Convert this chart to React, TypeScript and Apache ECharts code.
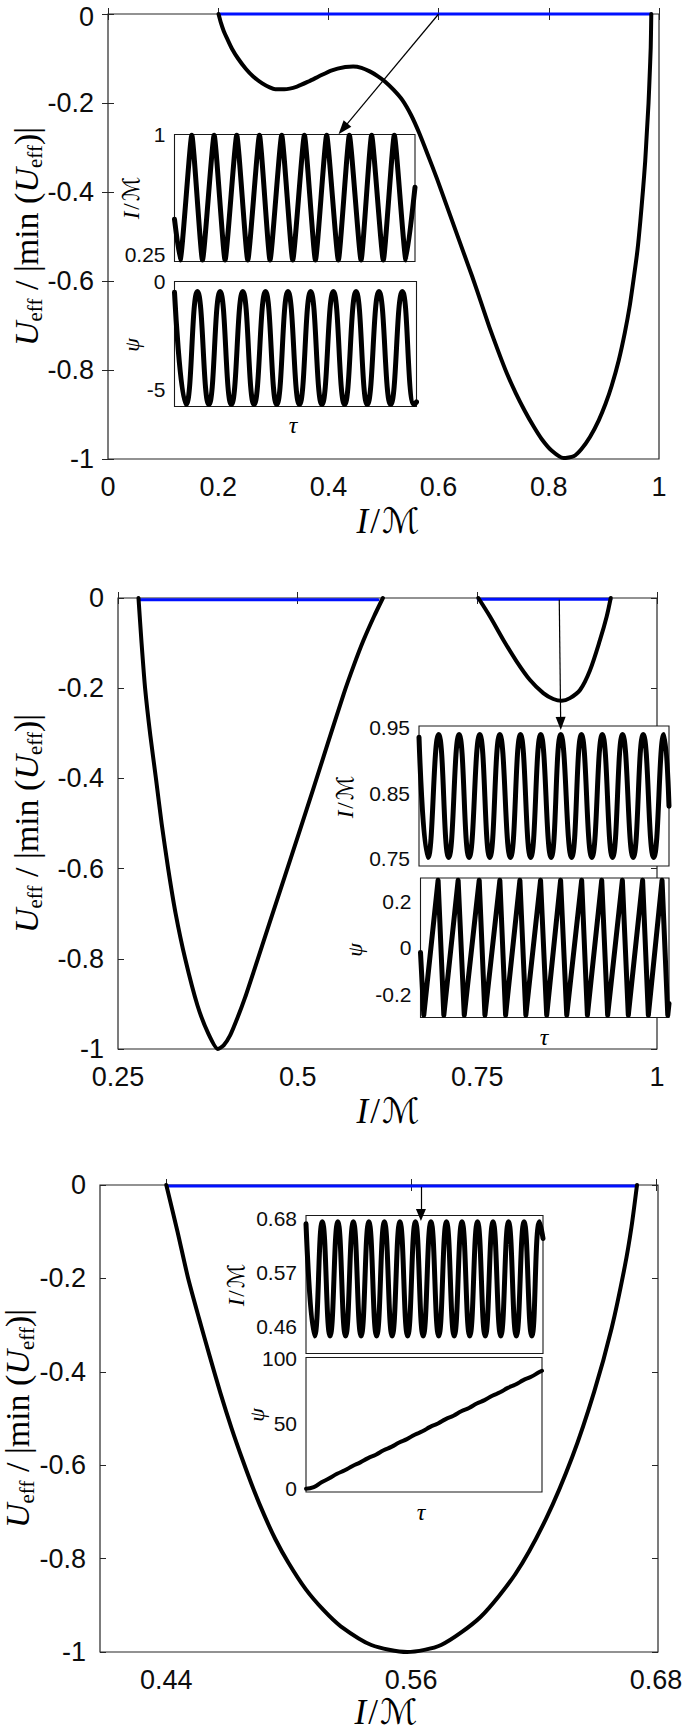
import React, { useEffect, useRef } from "react";
import * as echarts from "echarts";

// ---------------- data ----------------
// Panel 1 (top)
const P1_X_RANGE = [0, 1];
const P1_X_TICKS = [0, 0.2, 0.4, 0.6, 0.8, 1];
const P1_Y_RANGE = [-1, 0];
const P1_Y_TICKS = [-1, -0.8, -0.6, -0.4, -0.2, 0];
const P1_CURVE = [
  [0.2006, 0], [0.205, -0.02], [0.21, -0.038], [0.2165, -0.056], [0.225, -0.078], [0.236, -0.1],
  [0.25, -0.123], [0.264, -0.141], [0.28, -0.156], [0.2935, -0.165], [0.3037, -0.169], [0.32, -0.169],
  [0.343, -0.163], [0.365, -0.151], [0.383, -0.14], [0.405, -0.127], [0.4306, -0.119], [0.445, -0.118],
  [0.46, -0.121], [0.475, -0.129], [0.49, -0.14], [0.502, -0.151], [0.518, -0.17], [0.534, -0.193],
  [0.55, -0.227], [0.565, -0.268], [0.58, -0.315], [0.597, -0.37], [0.613, -0.425], [0.629, -0.48],
  [0.645, -0.535], [0.661, -0.59], [0.677, -0.648], [0.692, -0.703], [0.708, -0.757], [0.724, -0.808],
  [0.74, -0.852], [0.756, -0.891], [0.772, -0.926], [0.787, -0.955], [0.805, -0.981], [0.827, -0.998],
  [0.845, -0.994], [0.859, -0.978], [0.875, -0.95], [0.8906, -0.913], [0.903, -0.876], [0.914, -0.836],
  [0.927, -0.778], [0.938, -0.716], [0.947, -0.655], [0.954, -0.595], [0.961, -0.53], [0.966, -0.467],
  [0.971, -0.395], [0.975, -0.33], [0.978, -0.265], [0.981, -0.2], [0.983, -0.14], [0.985, -0.075],
  [0.986, 0],
];
const P1_BLUE = [[0.2006, 0], [0.986, 0]];
const P1_ARROW = [[0.6, 0], [0.4265, -0.258]];
const P1_IN_I_RANGE = [0.206, 1];
const P1_IN_I_TICKS = [0.25, 1];
const P1_IN_I_TAU = [0, 10.7];
const P1_IN_I = [
  [0, 0.47], [0.25, 0.215], [0.77, 0.995], [1.245, 0.215], [1.764, 0.995], [2.25, 0.215], [2.77, 0.995],
  [3.26, 0.215], [3.78, 0.995], [4.25, 0.215], [4.77, 0.995], [5.26, 0.215], [5.78, 0.995], [6.27, 0.215],
  [6.77, 0.995], [7.29, 0.215], [7.78, 0.995], [8.3, 0.215], [8.77, 0.995], [9.29, 0.215], [9.78, 0.995],
  [10.3, 0.215], [10.7, 0.67],
];
const P1_IN_PSI_RANGE = [-5.81, 0];
const P1_IN_PSI_TICKS = [-5, 0];
const P1_IN_PSI_TAU = [0, 10.77];
const P1_IN_PSI = [
  [0, -0.5], [0.52, -5.72], [1.02, -0.47], [1.53, -5.72], [2.03, -0.47], [2.53, -5.72], [3.04, -0.47],
  [3.54, -5.72], [4.05, -0.47], [4.55, -5.72], [5.05, -0.47], [5.56, -5.72], [6.06, -0.47], [6.56, -5.72],
  [7.07, -0.47], [7.57, -5.72], [8.08, -0.47], [8.58, -5.72], [9.1, -0.47], [9.62, -5.72], [10.14, -0.47],
  [10.66, -5.72], [10.77, -5.6],
];

// Panel 2 (middle)
const P2_X_RANGE = [0.25, 1];
const P2_X_TICKS = [0.25, 0.5, 0.75, 1];
const P2_Y_RANGE = [-1, 0];
const P2_Y_TICKS = [-1, -0.8, -0.6, -0.4, -0.2, 0];
const P2_CURVE_A = [
  [0.2785, 0], [0.2828, -0.1], [0.2877, -0.2], [0.295, -0.305], [0.3028, -0.4], [0.3107, -0.5],
  [0.3198, -0.6], [0.33, -0.698], [0.3435, -0.8], [0.3605, -0.903], [0.3757, -0.966], [0.389, -1],
  [0.397, -0.992], [0.406, -0.97], [0.416, -0.932], [0.427, -0.885], [0.4395, -0.825], [0.461, -0.72],
  [0.482, -0.618], [0.502, -0.52], [0.5214, -0.425], [0.542, -0.322], [0.564, -0.213], [0.578, -0.15],
  [0.5913, -0.095], [0.6065, -0.04], [0.6186, 0],
];
const P2_CURVE_B = [
  [0.7514, 0], [0.7676, -0.041], [0.7862, -0.093], [0.8048, -0.141], [0.8233, -0.182], [0.8418, -0.211],
  [0.8557, -0.224], [0.8674, -0.228], [0.8789, -0.222], [0.8929, -0.204], [0.9068, -0.16], [0.9207, -0.093],
  [0.93, -0.041], [0.9356, 0],
];
const P2_BLUE_A = [[0.2806, -0.004], [0.6118, -0.004]];
const P2_BLUE_B = [[0.7514, -0.003], [0.9356, -0.003]];
const P2_ARROW = [[0.864, -0.004], [0.866, -0.278]];
const P2_IN_I_RANGE = [0.739, 0.952];
const P2_IN_I_TICKS = [0.75, 0.85, 0.95];
const P2_IN_I_TAU = [0, 12.22];
const P2_IN_I = [
  [0, 0.935], [0.44, 0.752], [0.96, 0.939], [1.45, 0.752], [1.96, 0.939], [2.45, 0.752], [2.97, 0.939],
  [3.46, 0.752], [3.95, 0.939], [4.47, 0.752], [4.96, 0.939], [5.46, 0.752], [5.95, 0.939], [6.46, 0.752],
  [6.93, 0.939], [7.46, 0.752], [7.94, 0.939], [8.45, 0.752], [8.96, 0.939], [9.46, 0.752], [9.95, 0.939],
  [10.47, 0.752], [10.96, 0.939], [11.47, 0.752], [11.97, 0.939], [12.22, 0.83],
];
const P2_IN_PSI_RANGE = [-0.3, 0.3];
const P2_IN_PSI_TICKS = [-0.2, 0, 0.2];
const P2_IN_PSI_TAU = [0, 12.15];
const P2_IN_PSI = [
  [0, -0.02], [0.16, -0.29], [0.86, 0.29], [1.14, -0.29], [1.84, 0.29], [2.14, -0.29], [2.87, 0.29],
  [3.15, -0.29], [3.88, 0.29], [4.16, -0.29], [4.86, 0.29], [5.15, -0.29], [5.87, 0.29], [6.17, -0.29],
  [6.85, 0.29], [7.15, -0.29], [7.88, 0.29], [8.16, -0.29], [8.86, 0.29], [9.15, -0.29], [9.87, 0.29],
  [10.16, -0.29], [10.86, 0.29], [11.14, -0.29], [11.81, 0.29], [12.09, -0.29], [12.15, -0.24],
];

// Panel 3 (bottom)
const P3_X_RANGE = [0.4075, 0.681];
const P3_X_TICKS = [0.44, 0.56, 0.68];
const P3_Y_RANGE = [-1, 0];
const P3_Y_TICKS = [-1, -0.8, -0.6, -0.4, -0.2, 0];
const P3_CURVE = [
  [0.44, 0], [0.4455, -0.1], [0.4506, -0.198], [0.456, -0.285], [0.4613, -0.367], [0.4665, -0.445],
  [0.472, -0.521], [0.4775, -0.59], [0.4827, -0.651], [0.488, -0.707], [0.4934, -0.758], [0.5, -0.81],
  [0.5084, -0.866], [0.517, -0.91], [0.5255, -0.945], [0.5405, -0.985], [0.558, -1], [0.5747, -0.985],
  [0.594, -0.925], [0.6111, -0.833], [0.6261, -0.715], [0.639, -0.582], [0.6497, -0.443], [0.6583, -0.306],
  [0.6647, -0.175], [0.668, -0.09], [0.6707, 0],
];
const P3_BLUE = [[0.44, -0.002], [0.6707, -0.002]];
const P3_ARROW = [[0.5648, -0.004], [0.5648, -0.064]];
const P3_IN_I_RANGE = [0.404, 0.687];
const P3_IN_I_TICKS = [0.46, 0.57, 0.68];
const P3_IN_I_TAU = [0, 15.27];
const P3_IN_I = [
  [0, 0.67], [0.55, 0.44], [1.05, 0.674], [1.55, 0.44], [2.05, 0.674], [2.55, 0.44], [3.05, 0.674],
  [3.55, 0.44], [4.05, 0.674], [4.55, 0.44], [5.05, 0.674], [5.55, 0.44], [6.05, 0.674], [6.55, 0.44],
  [7.05, 0.674], [7.55, 0.44], [8.05, 0.674], [8.55, 0.44], [9.05, 0.674], [9.55, 0.44], [10.05, 0.674],
  [10.55, 0.44], [11.05, 0.674], [11.55, 0.44], [12.05, 0.674], [12.55, 0.44], [13.05, 0.674],
  [13.55, 0.44], [14.05, 0.674], [14.55, 0.44], [15.05, 0.674], [15.27, 0.64],
];
const P3_IN_PSI_RANGE = [-2.5, 101];
const P3_IN_PSI_TICKS = [0, 50, 100];
const P3_IN_PSI_TAU = [0, 15.2];
const P3_IN_PSI = [
  [0, 0], [0.5, 1.2], [1, 5], [1.5, 8], [2, 11.5], [2.5, 14.2], [3, 17.5], [3.5, 20.3], [4, 23.6],
  [4.5, 26.2], [5, 29.6], [5.5, 32.2], [6, 35.6], [6.5, 38.2], [7, 41.6], [7.5, 44.2], [8, 47.6],
  [8.5, 50.2], [9, 53.6], [9.5, 56.2], [10, 59.6], [10.5, 62.2], [11, 65.6], [11.5, 68.2], [12, 71.6],
  [12.5, 74.2], [13, 77.6], [13.5, 80.2], [14, 83.6], [14.5, 86.2], [15, 89.6], [15.2, 90.8],
];

// ---------------- layout & styles ----------------
const W = 685;
const H = 1733;
const SANS = "'Liberation Sans', Arial, Helvetica, sans-serif";
const SERIF = "'Liberation Serif', 'DejaVu Serif', serif";
const AXIS_COLOR = "#262626";
const LABEL_COLOR = "#0d0d0d";
const BLUE = "#0010ff";
const TICK_FONT = 27;

const MAIN_GRIDS = [
  { left: 108, top: 14, width: 551, height: 445 },
  { left: 118, top: 598, width: 539, height: 451 },
  { left: 100, top: 1185, width: 558, height: 467 },
];
const INSET_GRIDS = [
  { left: 174.5, top: 134.5, width: 240.5, height: 127 },
  { left: 174.5, top: 281.5, width: 242, height: 125 },
  { left: 419, top: 726, width: 250, height: 140 },
  { left: 420.5, top: 878, width: 248.5, height: 139.5 },
  { left: 306, top: 1215.5, width: 237, height: 138 },
  { left: 306, top: 1357.5, width: 236, height: 134.5 },
];

const fmt = (v: number) => String(+Number(v).toFixed(4));

function buildOption() {
  const grid: any[] = [];
  const xAxis: any[] = [];
  const yAxis: any[] = [];
  const series: any[] = [];

  const mainSpecs = [
    { xr: P1_X_RANGE, xt: P1_X_TICKS, yr: P1_Y_RANGE, yt: P1_Y_TICKS },
    { xr: P2_X_RANGE, xt: P2_X_TICKS, yr: P2_Y_RANGE, yt: P2_Y_TICKS },
    { xr: P3_X_RANGE, xt: P3_X_TICKS, yr: P3_Y_RANGE, yt: P3_Y_TICKS },
  ];
  const mainIdx: { x: number; y: number }[] = [];
  MAIN_GRIDS.forEach((g, gi) => {
    grid.push({ ...g, show: true, borderColor: AXIS_COLOR, borderWidth: 1.2, backgroundColor: "transparent", containLabel: false, outerBoundsMode: "none" });
    const s = mainSpecs[gi];
    const tick = (vals: number[]) => ({ show: true, inside: true, length: 6, customValues: vals, lineStyle: { color: AXIS_COLOR, width: 1 } });
    const base = { type: "value", gridIndex: gi, axisLine: { show: false }, splitLine: { show: false } };
    const labelBase = { show: true, fontSize: TICK_FONT, lineHeight: 24, fontFamily: SANS, color: LABEL_COLOR, showMinLabel: true, showMaxLabel: true, hideOverlap: false };
    xAxis.push({ ...base, position: "bottom", min: s.xr[0], max: s.xr[1], axisTick: tick(s.xt),
      axisLabel: { ...labelBase, customValues: s.xt, formatter: fmt, margin: 16 } });
    const xi = xAxis.length - 1;
    xAxis.push({ ...base, position: "top", min: s.xr[0], max: s.xr[1], axisTick: tick(s.xt), axisLabel: { show: false } });
    // the very top label of the top panel is nudged down a little so it stays inside the page
    const yFormatter = (v: number) => (gi === 0 && v === 0 ? "{t|0}" : fmt(v));
    yAxis.push({ ...base, position: "left", min: s.yr[0], max: s.yr[1], axisTick: tick(s.yt),
      axisLabel: { ...labelBase, customValues: s.yt, formatter: yFormatter, margin: 14,
        rich: { t: { fontSize: TICK_FONT, fontFamily: SANS, color: LABEL_COLOR, lineHeight: 24, padding: [6, 0, 0, 0] } } } });
    const yi = yAxis.length - 1;
    yAxis.push({ ...base, position: "right", min: s.yr[0], max: s.yr[1], axisTick: tick(s.yt), axisLabel: { show: false } });
    mainIdx.push({ x: xi, y: yi });
  });

  const insetSpecs = [
    { tau: P1_IN_I_TAU, yr: P1_IN_I_RANGE, yt: P1_IN_I_TICKS },
    { tau: P1_IN_PSI_TAU, yr: P1_IN_PSI_RANGE, yt: P1_IN_PSI_TICKS },
    { tau: P2_IN_I_TAU, yr: P2_IN_I_RANGE, yt: P2_IN_I_TICKS },
    { tau: P2_IN_PSI_TAU, yr: P2_IN_PSI_RANGE, yt: P2_IN_PSI_TICKS },
    { tau: P3_IN_I_TAU, yr: P3_IN_I_RANGE, yt: P3_IN_I_TICKS },
    { tau: P3_IN_PSI_TAU, yr: P3_IN_PSI_RANGE, yt: P3_IN_PSI_TICKS },
  ];
  const insetIdx: { x: number; y: number }[] = [];
  INSET_GRIDS.forEach((g, k) => {
    const gi = grid.length;
    grid.push({ ...g, show: true, borderColor: "#1a1a1a", borderWidth: 1.1, backgroundColor: "#fff", containLabel: false, outerBoundsMode: "none", z: 5 });
    const s = insetSpecs[k];
    const tick = (vals: number[]) => ({ show: true, inside: true, length: 4, customValues: vals, lineStyle: { color: AXIS_COLOR, width: 1 } });
    const base = { type: "value", gridIndex: gi, axisLine: { show: false }, splitLine: { show: false } };
    xAxis.push({ ...base, show: false, min: s.tau[0], max: s.tau[1] });
    const xi = xAxis.length - 1;
    yAxis.push({ ...base, position: "left", min: s.yr[0], max: s.yr[1], axisTick: tick(s.yt),
      axisLabel: { show: true, customValues: s.yt, formatter: fmt, fontSize: 21, lineHeight: 18, fontFamily: SANS, color: LABEL_COLOR, margin: 9, showMinLabel: true, showMaxLabel: true, hideOverlap: false } });
    const yi = yAxis.length - 1;
    yAxis.push({ ...base, position: "right", min: s.yr[0], max: s.yr[1], axisTick: tick(s.yt), axisLabel: { show: false } });
    insetIdx.push({ x: xi, y: yi });
  });

  const line = (data: number[][], idx: { x: number; y: number }, color: string, width: number, smooth: number | boolean, extra: any = {}) => ({
    type: "line", data, xAxisIndex: idx.x, yAxisIndex: idx.y, showSymbol: false, symbol: "none",
    smooth, clip: false, silent: true, lineStyle: { color, width, cap: "round", join: "round" }, z: 3, ...extra,
  });
  const arrow = (pts: number[][], size: number[]) => ({
    silent: true, symbol: ["none", "triangle"], symbolSize: size, precision: 6,
    label: { show: false }, lineStyle: { color: "#000", width: 1.2, type: "solid" },
    itemStyle: { color: "#000" }, emphasis: { disabled: true },
    data: [[{ coord: pts[0] }, { coord: pts[1] }]],
  });

  // panel 1
  series.push(line(P1_BLUE, mainIdx[0], BLUE, 3, false, { markLine: arrow(P1_ARROW, [10, 14]) }));
  series.push(line(P1_CURVE, mainIdx[0], "#000", 4, 0.2));
  // panel 2
  series.push(line(P2_BLUE_A, mainIdx[1], BLUE, 3, false));
  series.push(line(P2_BLUE_B, mainIdx[1], BLUE, 3, false, { markLine: arrow(P2_ARROW, [10, 13]) }));
  series.push(line(P2_CURVE_A, mainIdx[1], "#000", 4, 0.2));
  series.push(line(P2_CURVE_B, mainIdx[1], "#000", 4, 0.3));
  // panel 3
  series.push(line(P3_BLUE, mainIdx[2], BLUE, 3, false, { markLine: arrow(P3_ARROW, [10, 12]) }));
  series.push(line(P3_CURVE, mainIdx[2], "#000", 4, 0.25));
  // insets
  series.push(line(P1_IN_I, insetIdx[0], "#000", 5, 0.15, { z: 6 }));
  series.push(line(P1_IN_PSI, insetIdx[1], "#000", 5, 0.5, { z: 6 }));
  series.push(line(P2_IN_I, insetIdx[2], "#000", 5, 0.5, { z: 6 }));
  series.push(line(P2_IN_PSI, insetIdx[3], "#000", 5, false, { z: 6 }));
  series.push(line(P3_IN_I, insetIdx[4], "#000", 5, 0.5, { z: 6 }));
  series.push(line(P3_IN_PSI, insetIdx[5], "#000", 4, 0.5, { z: 6 }));

  // texts (axis titles)
  const yRich = {
    i: { fontFamily: SERIF, fontStyle: "italic", fontSize: 34, fill: "#000" },
    s: { fontFamily: SERIF, fontSize: 21, fill: "#000", padding: [18, 0, 0, 0] },
    n: { fontFamily: SERIF, fontSize: 34, fill: "#000" },
  };
  const yTitle = "{i|U}{s|eff}{n| / |min (}{i|U}{s|eff}{n|)|}";
  const mRich = (size: number) => ({
    i: { fontFamily: SERIF, fontStyle: "italic", fontSize: size, fill: "#000" },
    n: { fontFamily: SERIF, fontSize: size, fill: "#000", padding: [0, 2, 0, 2] },
    m: { fontFamily: "'DejaVu Sans', 'DejaVu Serif', serif", fontSize: size, fill: "#000" },
  });
  const xTitle = "{i|I}{n|/}{m|ℳ}";
  const R = Math.PI / 2;
  const txt = (x: number, y: number, text: string, rich: any, rotation = 0) => ({
    type: "text", x, y, rotation, silent: true, z: 20,
    style: { text, rich, align: "center", verticalAlign: "middle", fill: "#000", fontFamily: SERIF, fontSize: 20 },
  });
  const plain = (x: number, y: number, text: string, size: number, rotation = 0) => ({
    type: "text", x, y, rotation, silent: true, z: 20,
    style: { text, align: "center", verticalAlign: "middle", fill: "#000", fontFamily: SERIF, fontStyle: "italic", fontSize: size },
  });
  const graphic = [
    txt(26, 236.5, yTitle, yRich, R),
    txt(388, 521, xTitle, mRich(35)),
    txt(26, 823.5, yTitle, yRich, R),
    txt(388, 1111, xTitle, mRich(35)),
    txt(17.5, 1418.5, yTitle, yRich, R),
    txt(386, 1712, xTitle, mRich(35)),
    txt(131, 198, xTitle, mRich(23), R),
    plain(131, 345, "ψ", 22, R),
    plain(293, 425, "τ", 24),
    txt(345, 797, xTitle, mRich(23), R),
    plain(354, 950, "ψ", 22, R),
    plain(544, 1037, "τ", 24),
    txt(236, 1285, xTitle, mRich(23), R),
    plain(256, 1415, "ψ", 22, R),
    plain(421, 1512, "τ", 24),
  ];

  return {
    animation: false,
    backgroundColor: "#fff",
    textStyle: { fontFamily: SANS },
    grid, xAxis, yAxis, series, graphic,
  };
}

export default function App() {
  const ref = useRef<HTMLDivElement>(null);
  useEffect(() => {
    document.body.style.margin = "0";
    if (!ref.current) return;
    const chart = echarts.init(ref.current, undefined, { renderer: "svg", width: W, height: H });
    chart.setOption(buildOption() as any);
    return () => chart.dispose();
  }, []);
  return <div ref={ref} style={{ width: W, height: H, background: "#fff" }} />;
}
